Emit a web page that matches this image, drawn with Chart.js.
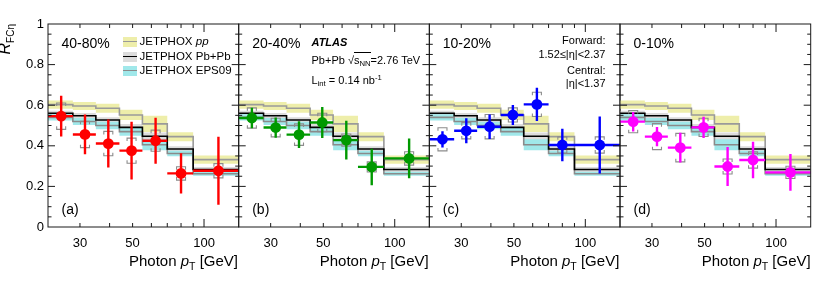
<!DOCTYPE html>
<html>
<head>
<meta charset="utf-8">
<script src="https://cdn.jsdelivr.net/npm/chart.js@4.4.0/dist/chart.umd.min.js"></script>
<style>
body { margin: 0; background: #fff; font-family: "Liberation Sans", Arial, sans-serif; }
#wrap { position: relative; width: 822px; height: 281px; overflow: hidden; }
#wrap canvas { position: absolute; left: 0; top: 0; }
.t { position: absolute; white-space: nowrap; color: #000; line-height: 1; }
.sub { font-size: 0.7em; position: relative; top: 0.35em; }
.sup { font-size: 0.7em; position: relative; top: -0.45em; }
.sw { position: absolute; width: 14px; height: 10px; }
.sw div { position: absolute; left: 0; right: 0; top: 4.2px; height: 1.6px; }
</style>
</head>
<body>
<div id="wrap">
  <canvas id="c0" width="822" height="281"></canvas>
  <canvas id="c1" width="822" height="281"></canvas>
  <canvas id="c2" width="822" height="281"></canvas>
  <canvas id="c3" width="822" height="281"></canvas>

  <!-- y axis title -->
  <div class="t" style="left:-3.5px;top:84px;width:60px;height:16px;font-size:16px;text-align:right;transform-origin:0 0;transform:rotate(-90deg)"><i>R</i><span style="font-size:10px;position:relative;top:4px">FCη</span></div>

  <!-- x axis titles -->
  <div class="t" style="right:584px;top:253px;font-size:15px">Photon <i>p</i><span class="sub">T</span> [GeV]</div>
  <div class="t" style="right:393.3px;top:253px;font-size:15px">Photon <i>p</i><span class="sub">T</span> [GeV]</div>
  <div class="t" style="right:202.7px;top:253px;font-size:15px">Photon <i>p</i><span class="sub">T</span> [GeV]</div>
  <div class="t" style="right:11.3px;top:253px;font-size:15px">Photon <i>p</i><span class="sub">T</span> [GeV]</div>

  <!-- centrality and panel tags -->
  <div class="t" style="left:61.5px;top:36px;font-size:14px">40-80%</div>
  <div class="t" style="left:252.2px;top:36px;font-size:14px">20-40%</div>
  <div class="t" style="left:442.8px;top:36px;font-size:14px">10-20%</div>
  <div class="t" style="left:633.5px;top:36px;font-size:14px">0-10%</div>
  <div class="t" style="left:61.5px;top:202px;font-size:14px">(a)</div>
  <div class="t" style="left:252.2px;top:202px;font-size:14px">(b)</div>
  <div class="t" style="left:442.8px;top:202px;font-size:14px">(c)</div>
  <div class="t" style="left:633.5px;top:202px;font-size:14px">(d)</div>

  <!-- legend -->
  <div class="sw" style="left:122.7px;top:36.7px;background:#eeeeaa"><div style="background:#9a9a9a"></div></div>
  <div class="sw" style="left:122.7px;top:51.7px;background:#dcdcdc"><div style="background:#000"></div></div>
  <div class="sw" style="left:122.7px;top:65.7px;background:#a0e8ea"><div style="background:#8a8a8a"></div></div>
  <div class="t" style="left:139.5px;top:36.1px;font-size:11.5px">JETPHOX <i>pp</i></div>
  <div class="t" style="left:139.5px;top:51.1px;font-size:11.5px">JETPHOX Pb+Pb</div>
  <div class="t" style="left:139.5px;top:65.1px;font-size:11.5px">JETPHOX EPS09</div>

  <!-- ATLAS labels -->
  <div class="t" style="left:311.5px;top:36.6px;font-size:11px;font-weight:bold;font-style:italic">ATLAS</div>
  <div class="t" style="left:311.5px;top:54.6px;font-size:11px">Pb+Pb √<span style="border-top:1px solid #000;padding-top:1px">s<span class="sub">NN</span></span>=2.76 TeV</div>
  <div class="t" style="left:311.5px;top:74.6px;font-size:11px">L<span class="sub">int</span> = 0.14 nb<span class="sup">-1</span></div>

  <!-- eta ranges -->
  <div class="t" style="right:216.5px;top:35.3px;font-size:11px">Forward:</div>
  <div class="t" style="right:216.5px;top:48.6px;font-size:11px">1.52≤|η|&lt;2.37</div>
  <div class="t" style="right:216.5px;top:65.3px;font-size:11px">Central:</div>
  <div class="t" style="right:216.5px;top:77.9px;font-size:11px">|η|&lt;1.37</div>
</div>

<script>
// Photon pT bins [GeV] and tick values
const binEdges = [22, 28, 35, 44, 55, 70, 90, 140];
const ptCenters = [25, 31.5, 39.5, 49.5, 62.5, 80, 115];
const xTickValues = [30, 40, 50, 60, 70, 80, 90, 100];
const xTickLabels = [30, 50, 100];

// JETPHOX predictions (same in every panel)
const ppVal = [0.603, 0.596, 0.585, 0.552, 0.508, 0.445, 0.332];
const ppErr = [0.020, 0.020, 0.022, 0.025, 0.040, 0.022, 0.020];
const pbpbVal = [0.560, 0.548, 0.527, 0.491, 0.447, 0.384, 0.283];
const pbpbErr = [0.013, 0.013, 0.014, 0.016, 0.018, 0.014, 0.012];
const eps09Val = [0.540, 0.520, 0.500, 0.470, 0.405, 0.362, 0.262];
const eps09Err = [0.015, 0.017, 0.018, 0.020, 0.027, 0.014, 0.010];

// Measured R_FC per centrality: value, statistical and systematic errors
const r4080 = [0.546, 0.456, 0.411, 0.376, 0.425, 0.264, 0.277];
const r4080Stat = [0.100, 0.098, 0.118, 0.142, 0.113, 0.099, 0.168];
const r4080Sys = [0.065, 0.065, 0.060, 0.062, 0.052, 0.033, 0.035];

const r2040 = [0.537, 0.490, 0.455, 0.515, 0.428, 0.296, 0.338];
const r2040Stat = [0.050, 0.050, 0.066, 0.076, 0.095, 0.090, 0.098];
const r2040Sys = [0.050, 0.046, 0.053, 0.045, 0.030, 0.025, 0.033];

const r1020 = [0.432, 0.474, 0.494, 0.552, 0.604, 0.404, 0.404];
const r1020Stat = [0.040, 0.062, 0.060, 0.049, 0.082, 0.080, 0.140];
const r1020Sys = [0.057, 0.040, 0.060, 0.035, 0.060, 0.040, 0.040];

const r0010 = [0.519, 0.445, 0.391, 0.491, 0.298, 0.330, 0.269];
const r0010Stat = [0.048, 0.047, 0.073, 0.052, 0.096, 0.090, 0.090];
const r0010Sys = [0.055, 0.064, 0.070, 0.045, 0.037, 0.040, 0.030];

const panels = [
    { val: r4080, stat: r4080Stat, sys: r4080Sys, color: '#ff0000' },
    { val: r2040, stat: r2040Stat, sys: r2040Sys, color: '#009900' },
    { val: r1020, stat: r1020Stat, sys: r1020Sys, color: '#0000ff' },
    { val: r0010, stat: r0010Stat, sys: r0010Sys, color: '#ff00ff' }
];

// frame layout
const frameLeft = [48, 238.7, 429.3, 620];
const frameWidth = 190.7;
const frameTop = 24;
const frameBottom = 227;

// step-histogram points, sign picks upper / lower / central edge
function stepPoints(vals, errs, sign) {
    const pts = vals.map((v, i) => ({ x: binEdges[i], y: v + sign * errs[i] }));
    pts.push({ x: binEdges[binEdges.length - 1], y: pts[pts.length - 1].y });
    return pts;
}

function band(vals, errs, color, order) {
    return [
        { data: stepPoints(vals, errs, 1), stepped: true, fill: '+1', backgroundColor: color,
          borderColor: 'rgba(0,0,0,0)', borderWidth: 0, pointRadius: 0, order: order },
        { data: stepPoints(vals, errs, -1), stepped: true, fill: false,
          borderColor: 'rgba(0,0,0,0)', borderWidth: 0, pointRadius: 0, order: order }
    ];
}

function centralLine(vals, color, order) {
    return { data: stepPoints(vals, vals, 0), stepped: true, fill: false, borderColor: color,
             borderWidth: 1.6, pointRadius: 0, order: order };
}

// error bars and systematic brackets, drawn just before the markers
const errorBars = {
    id: 'errorBars',
    beforeDatasetDraw(chart, args, opts) {
        if (args.index !== opts.dataIndex) return;
        const xs = chart.scales.x, ys = chart.scales.y, ctx = chart.ctx;
        ctx.save();
        ctx.strokeStyle = '#8c8c8c';
        ctx.lineWidth = 1.1;
        ctx.beginPath();
        opts.val.forEach((v, i) => {
            const px = xs.getPixelForValue(ptCenters[i]);
            const top = ys.getPixelForValue(v + opts.sys[i]);
            const bot = ys.getPixelForValue(v - opts.sys[i]);
            const w = 4.5, h = 3;
            ctx.moveTo(px - w, top + h); ctx.lineTo(px - w, top); ctx.lineTo(px + w, top); ctx.lineTo(px + w, top + h);
            ctx.moveTo(px - w, bot - h); ctx.lineTo(px - w, bot); ctx.lineTo(px + w, bot); ctx.lineTo(px + w, bot - h);
        });
        ctx.stroke();
        ctx.strokeStyle = opts.color;
        ctx.lineWidth = 2.4;
        ctx.beginPath();
        opts.val.forEach((v, i) => {
            const px = xs.getPixelForValue(ptCenters[i]);
            const py = ys.getPixelForValue(v);
            ctx.moveTo(xs.getPixelForValue(binEdges[i]), py);
            ctx.lineTo(xs.getPixelForValue(binEdges[i + 1]), py);
            ctx.moveTo(px, ys.getPixelForValue(v + opts.stat[i]));
            ctx.lineTo(px, ys.getPixelForValue(v - opts.stat[i]));
        });
        ctx.stroke();
        ctx.restore();
    }
};

// frame with inward ticks, ROOT style
const frame = {
    id: 'frame',
    afterDraw(chart) {
        const { ctx, chartArea: a, scales: { x, y } } = chart;
        ctx.save();
        ctx.strokeStyle = '#1a1a1a';
        ctx.lineWidth = 1;
        ctx.strokeRect(a.left, a.top, a.right - a.left, a.bottom - a.top);
        ctx.beginPath();
        xTickValues.forEach(v => {
            const px = x.getPixelForValue(v);
            const len = v === 100 ? 8 : 4;
            ctx.moveTo(px, a.bottom); ctx.lineTo(px, a.bottom - len);
            ctx.moveTo(px, a.top); ctx.lineTo(px, a.top + len);
        });
        for (let k = 1; k < 20; k++) {
            const py = y.getPixelForValue(k * 0.05);
            const len = k % 4 === 0 ? 7 : 3.5;
            ctx.moveTo(a.left, py); ctx.lineTo(a.left + len, py);
            ctx.moveTo(a.right, py); ctx.lineTo(a.right - len, py);
        }
        ctx.stroke();
        ctx.restore();
    }
};

panels.forEach((p, n) => {
    const datasets = [
        ...band(ppVal, ppErr, '#eeeeaa', 6),
        ...band(pbpbVal, pbpbErr, '#dcdcdc', 5),
        ...band(eps09Val, eps09Err, '#a0e8ea', 4),
        centralLine(eps09Val, '#8a8a8a', 3),
        centralLine(ppVal, '#9a9a9a', 2),
        centralLine(pbpbVal, '#000000', 1),
        { data: ptCenters.map((x, i) => ({ x: x, y: p.val[i] })), showLine: false,
          pointRadius: 5.4, pointBackgroundColor: p.color, pointBorderWidth: 0, order: 0 }
    ];
    const left = frameLeft[n];
    const yWidth = n === 0 ? left : 0;

    new Chart(document.getElementById('c' + n), {
        type: 'line',
        data: { datasets: datasets },
        options: {
            responsive: false,
            animation: false,
            events: [],
            layout: { padding: { left: left - yWidth, right: 822 - left - frameWidth, top: frameTop, bottom: 0 } },
            scales: {
                x: {
                    type: 'logarithmic', min: 22, max: 140,
                    grid: { display: false, drawTicks: false },
                    border: { display: false },
                    afterBuildTicks: s => { s.ticks = xTickValues.map(v => ({ value: v })); },
                    afterFit: s => { s.height = 281 - frameBottom; },
                    ticks: {
                        autoSkip: false, maxRotation: 0, padding: 9, color: '#000',
                        font: { family: '"Liberation Sans", Arial, sans-serif', size: 13 },
                        callback: v => xTickLabels.includes(v) ? String(v) : ''
                    }
                },
                y: {
                    display: n === 0, min: 0, max: 1,
                    grid: { display: false, drawTicks: false },
                    border: { display: false },
                    afterFit: s => { s.width = yWidth; },
                    ticks: {
                        stepSize: 0.2, padding: 4, color: '#000',
                        font: { family: '"Liberation Sans", Arial, sans-serif', size: 13 },
                        callback: v => String(Math.round(v * 10) / 10)
                    }
                }
            },
            plugins: {
                legend: { display: false },
                tooltip: { enabled: false },
                errorBars: { dataIndex: datasets.length - 1, val: p.val, stat: p.stat, sys: p.sys, color: p.color }
            }
        },
        plugins: [errorBars, frame]
    });
});
</script>
</body>
</html>
